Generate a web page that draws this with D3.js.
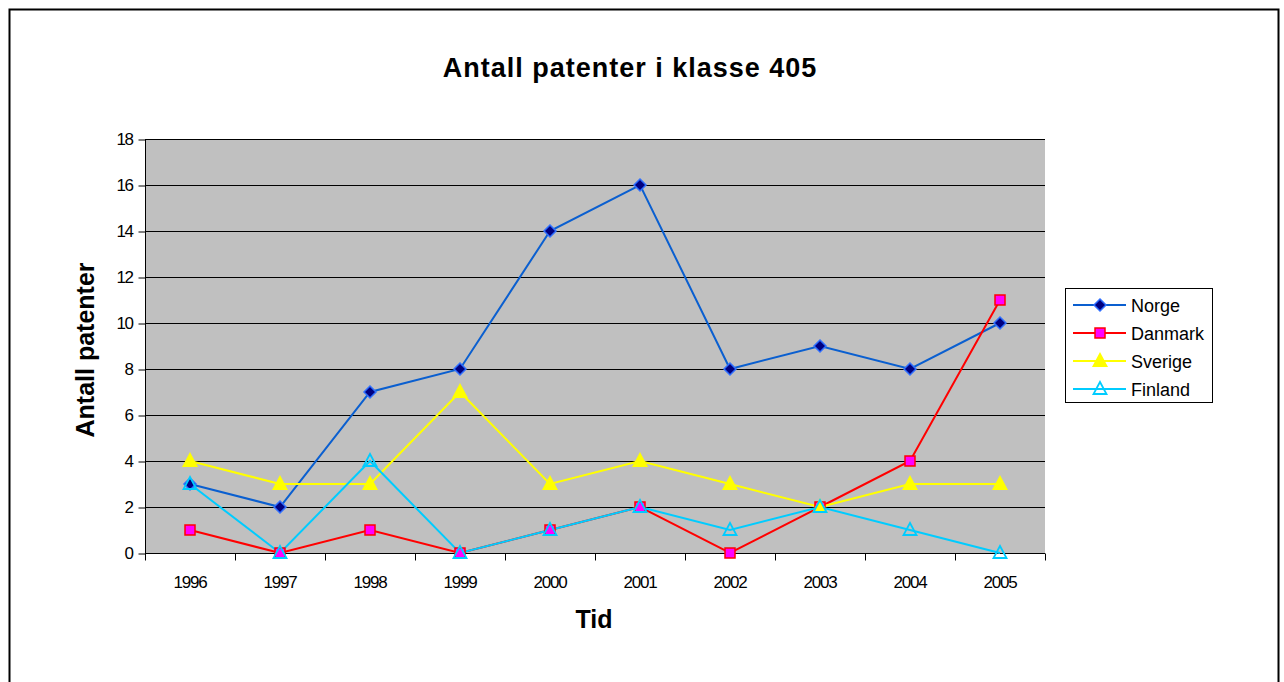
<!DOCTYPE html>
<html>
<head>
<meta charset="UTF-8">
<script src="https://cdn.jsdelivr.net/npm/d3@7"></script>
<style>
  body { margin: 0; background: #fff; }
  text { font-family: "Liberation Sans", Arial, sans-serif; }
</style>
</head>
<body>
<svg id="chart" width="1284" height="682"></svg>
<script>
// data
var years = ["1996","1997","1998","1999","2000","2001","2002","2003","2004","2005"];
var norge   = [3, 2, 7, 8, 14, 16, 8, 9, 8, 10];
var danmark = [1, 0, 1, 0, 1, 2, 0, 2, 4, 11];
var sverige = [4, 3, 3, 7, 3, 4, 3, 2, 3, 3];
var finland = [3, 0, 4, 0, 1, 2, 1, 2, 1, 0];
var yTicks  = [0, 2, 4, 6, 8, 10, 12, 14, 16, 18];

var series = [
  {name: "Norge",   values: norge,   line: "#0a5fd0", fill: "#000080", stroke: "#2f6fff", shape: "diamond"},
  {name: "Danmark", values: danmark, line: "#ff0000", fill: "#ff00ff", stroke: "#ff0000", shape: "square"},
  {name: "Sverige", values: sverige, line: "#ffff00", fill: "#ffff00", stroke: "#ffff00", shape: "triangle"},
  {name: "Finland", values: finland, line: "#00ccff", fill: "none",    stroke: "#00ccff", shape: "triangle"}
];

var svg = d3.select("#chart");

// outer frame
svg.append("rect").attr("x", 9.5).attr("y", 9.5).attr("width", 1269).attr("height", 700)
  .attr("fill", "#fff").attr("stroke", "#000").attr("stroke-width", 2);

var pLeft = 145, pRight = 1045, pTop = 139, pBottom = 553;

var x = d3.scaleBand().domain(years).range([pLeft, pRight]);
var y = d3.scaleLinear().domain([0, 18]).range([pBottom, pTop]);

// plot area
svg.append("rect").attr("x", pLeft).attr("y", pTop).attr("width", pRight - pLeft).attr("height", pBottom - pTop)
  .attr("fill", "#c0c0c0");

// grid
svg.append("g").selectAll("line").data(yTicks.slice(1)).join("line")
  .attr("x1", pLeft).attr("x2", pRight)
  .attr("y1", d => Math.round(y(d)) + 0.5).attr("y2", d => Math.round(y(d)) + 0.5)
  .attr("stroke", "#000").attr("stroke-width", 1);

// y axis
var yAxis = svg.append("g").attr("transform", "translate(" + (pLeft + 0.5) + ",0.5)")
  .call(d3.axisLeft(y).tickValues(yTicks).tickSize(7).tickPadding(6));
yAxis.select(".domain").attr("stroke", "#000").attr("d", "M0," + y(18) + "V" + y(0));
yAxis.selectAll("text").attr("font-size", 17).attr("letter-spacing", "-1.5px").attr("fill", "#000")
  .attr("font-family", "Liberation Sans, Arial, sans-serif");

// x axis
var xAxis = svg.append("g").attr("transform", "translate(0," + (pBottom + 0.5) + ")");
xAxis.append("line").attr("x1", pLeft).attr("x2", pRight).attr("stroke", "#000");
xAxis.selectAll("line.tk").data(d3.range(years.length + 1)).join("line").attr("class", "tk")
  .attr("x1", i => Math.round(pLeft + i * x.step()) + 0.5).attr("x2", i => Math.round(pLeft + i * x.step()) + 0.5)
  .attr("y1", 0).attr("y2", 7).attr("stroke", "#000");
xAxis.selectAll("text").data(years).join("text")
  .attr("x", d => x(d) + x.bandwidth() / 2).attr("y", 34)
  .attr("text-anchor", "middle").attr("font-size", 17).attr("letter-spacing", "-1.2px")
  .text(d => d);

// lines
var line = d3.line().x((d, i) => x(years[i]) + x.bandwidth() / 2).y(d => y(d));

series.forEach(function(s) {
  svg.append("path").datum(s.values).attr("d", line)
    .attr("fill", "none").attr("stroke", s.line).attr("stroke-width", 2);
});

function marker(g, s, cx, cy) {
  if (s.shape === "diamond") {
    g.append("path").attr("d", "M" + cx + "," + (cy - 6) + "L" + (cx + 6) + "," + cy + "L" + cx + "," + (cy + 6) + "L" + (cx - 6) + "," + cy + "Z")
      .attr("fill", s.fill).attr("stroke", s.stroke).attr("stroke-width", 1.5);
  } else if (s.shape === "square") {
    g.append("rect").attr("x", cx - 5).attr("y", cy - 5).attr("width", 10).attr("height", 10)
      .attr("fill", s.fill).attr("stroke", s.stroke).attr("stroke-width", 1.5);
  } else {
    g.append("path").attr("d", "M" + cx + "," + (cy - 7) + "L" + (cx + 6.5) + "," + (cy + 5) + "L" + (cx - 6.5) + "," + (cy + 5) + "Z")
      .attr("fill", s.fill).attr("stroke", s.stroke).attr("stroke-width", 1.8);
  }
}

series.forEach(function(s) {
  var g = svg.append("g");
  s.values.forEach(function(v, i) {
    marker(g, s, x(years[i]) + x.bandwidth() / 2, y(v));
  });
});

// legend
var lg = svg.append("g");
lg.append("rect").attr("x", 1065.5).attr("y", 288.5).attr("width", 147).attr("height", 114)
  .attr("fill", "#fff").attr("stroke", "#000");
series.forEach(function(s, i) {
  var ly = 305 + i * 28;
  lg.append("line").attr("x1", 1073).attr("x2", 1126).attr("y1", ly).attr("y2", ly)
    .attr("stroke", s.line).attr("stroke-width", 2);
  marker(lg, s, 1100, ly);
  lg.append("text").attr("x", 1131).attr("y", ly + 7).attr("font-size", 18).text(s.name);
});

// titles
svg.append("text").attr("x", 630).attr("y", 77).attr("text-anchor", "middle")
  .attr("font-size", 27).attr("font-weight", "bold").attr("letter-spacing", "1px")
  .text("Antall patenter i klasse 405");
svg.append("text").attr("transform", "translate(94,350) rotate(-90)").attr("text-anchor", "middle")
  .attr("font-size", 25).attr("font-weight", "bold").text("Antall patenter");
svg.append("text").attr("x", 594).attr("y", 628).attr("text-anchor", "middle")
  .attr("font-size", 25).attr("font-weight", "bold").text("Tid");
</script>
</body>
</html>
